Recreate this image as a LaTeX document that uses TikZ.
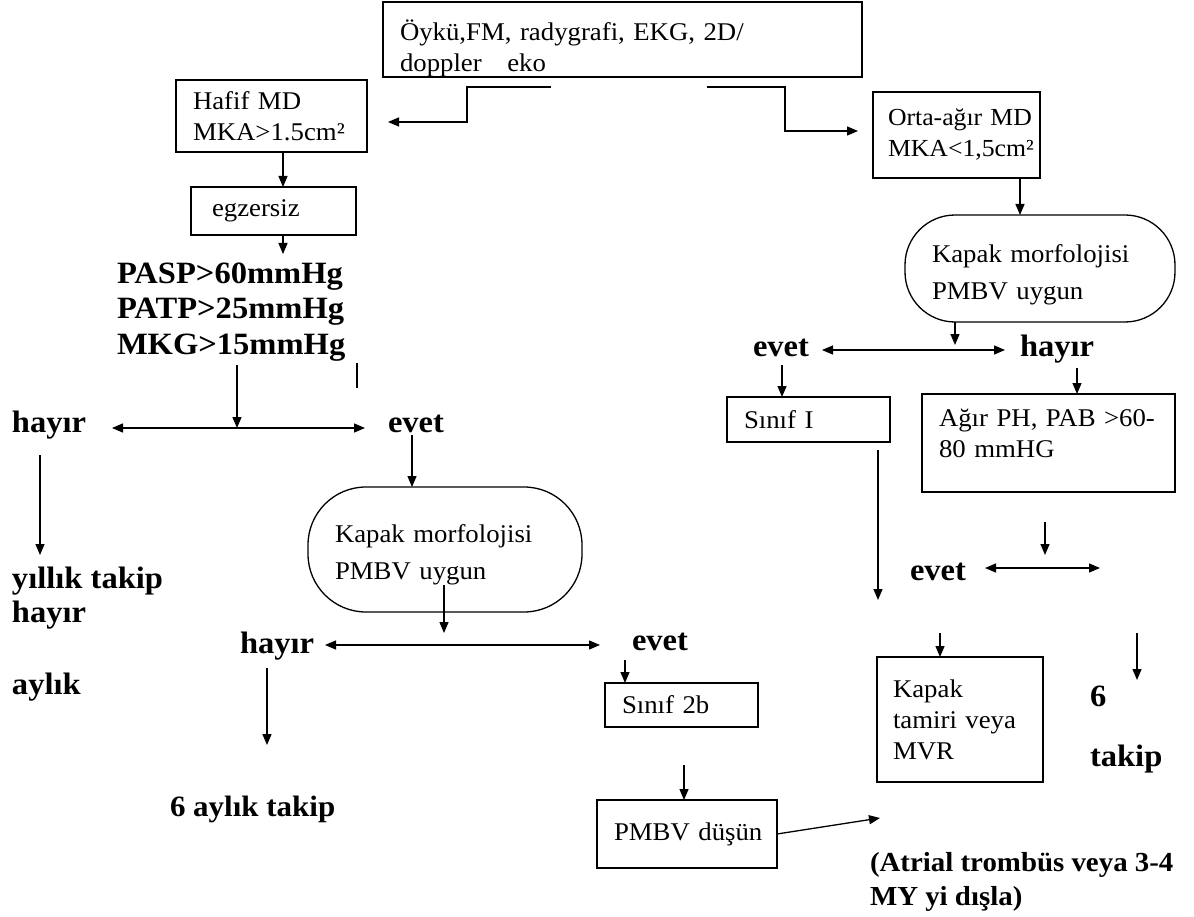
\documentclass[tikz,border=0pt]{standalone}
\usepackage{fontspec}
\setmainfont{Liberation Serif}[FakeStretch=1.05]
\usetikzlibrary{arrows.meta,calc}
\newcommand\myreg{\fontsize{25.5}{31}\selectfont}
\newcommand\myregwide{\fontsize{25.5}{37}\selectfont}
\newcommand\mybld{\fontsize{31}{35}\selectfont\bfseries}
\newcommand\mybldsm{\fontsize{27.5}{33}\selectfont\bfseries}
\begin{document}
\begin{tikzpicture}[x=1pt,y=-1pt, line width=1.3pt,
  arr/.style={-{Stealth[length=11pt,width=9pt,inset=0pt]}},
  darr/.style={{Stealth[length=11pt,width=9pt,inset=0pt]}-{Stealth[length=11pt,width=9pt,inset=0pt]}},
  box/.style={draw, line width=1.5pt, anchor=north west, inner xsep=17pt, inner ysep=0pt, outer sep=0pt, align=left, font=\myreg},
  rbox/.style={draw, line width=1.3pt, anchor=north west, inner xsep=27pt, inner ysep=0pt, outer sep=0pt, align=left, font=\myregwide},
  lbl/.style={anchor=base west, inner sep=0pt, outer sep=0pt, font=\mybld}]
\useasboundingbox (0,0) rectangle (1194,917);
\fill[white] (0,0) rectangle (1194,917);

% ---- boxes ----
\node[box, text width=445pt, minimum height=75pt] (top) at (383,2) {\rule{0pt}{38pt}\mbox{Öykü,FM, radygrafi, EKG, 2D/}\\\mbox{doppler~~~eko}};
\node[box, text width=157pt, minimum height=72pt] (hafif) at (176,80) {\mbox{Hafif MD}\\\mbox{MKA>1.5cm²}};
\node[box, inner xsep=21pt, text width=123pt, minimum height=48pt] (egz) at (191,187) {egzersiz};
\node[box, inner xsep=15pt, text width=137pt, minimum height=86pt, font=\fontsize{24.5}{31}\selectfont] (orta) at (873,92) {\mbox{Orta-ağır MD}\\\mbox{MKA<1,5cm²}};
\node[box, text width=129pt, minimum height=45pt] (s1) at (727,397) {\mbox{Sınıf I}};
\node[box, text width=219pt, minimum height=98pt] (agir) at (922,394) {\mbox{Ağır PH, PAB >60-}\\\mbox{80 mmHG}\rule[-19pt]{0pt}{0pt}};
\node[box, inner xsep=16pt, text width=134pt, minimum height=125pt] (kt) at (877,657) {\mbox{Kapak}\\\mbox{tamiri veya}\\\mbox{MVR}};
\node[box, text width=119pt, minimum height=44pt] (s2b) at (605,683) {\mbox{Sınıf 2b}};
\node[box, text width=146pt, minimum height=68pt] (pmbv) at (597,800) {\mbox{PMBV düşün}};

% ---- rounded nodes ----
\node[rbox, rounded corners=58pt, text width=220pt, minimum height=125pt] (kapL) at (308,487) {\rule{0pt}{28pt}\mbox{Kapak morfolojisi}\\\mbox{PMBV uygun}};
\node[rbox, rounded corners=50pt, text width=216pt, minimum height=107pt] (kapR) at (905,215) {\rule{0pt}{30pt}\mbox{Kapak morfolojisi}\\\mbox{PMBV uygun}};

% ---- bold labels ----
\node[lbl] (pasp) at (117,284) {PASP>60mmHg};
\node[lbl] (patp) at (117,319) {PATP>25mmHg};
\node[lbl] (mkg)  at (117,354) {MKG>15mmHg};
\node[lbl] (hay1) at (12,432) {hayır};
\node[lbl] (evet1) at (388,432) {evet};
\node[lbl] (yil) at (12,588) {yıllık takip};
\node[lbl] (hay1b) at (12,622) {hayır};
\node[lbl] (ayl) at (12,694) {aylık};
\node[lbl] (hay2) at (240,653) {hayır};
\node[lbl] (evet2) at (632,650) {evet};
\node[lbl, font=\fontsize{29.5}{35}\selectfont\bfseries] (alt6) at (170,816) {6 aylık takip};
\node[lbl] (evet3) at (753,356) {evet};
\node[lbl] (hay3) at (1020,356) {hayır};
\node[lbl] (evet4) at (910,580) {evet};
\node[lbl] (six) at (1090,706) {6};
\node[lbl] (tak) at (1090,766) {takip};
\node[lbl, font=\mybldsm] (atr1) at (870,871) {(Atrial trombüs veya 3-4};
\node[lbl, font=\mybldsm] (atr2) at (870,905) {MY yi dışla)};

% ---- coordinates ----
\coordinate (t1) at (551,87);
\coordinate (t2) at (467,87);
\coordinate (t3) at (388,122);
\coordinate (u1) at (707,87);
\coordinate (u2) at (785,87);
\coordinate (u3) at (858,131);
\coordinate (xa) at (283,0);
\coordinate (e1) at (283,254);
\coordinate (m1) at (237,365);
\coordinate (m2) at (237,428);
\coordinate (k1) at (357,363);
\coordinate (k2) at (357,388);
\coordinate (d1) at (112,428);
\coordinate (d2) at (365,428);
\coordinate (y1) at (40,455);
\coordinate (y2) at (40,555);
\coordinate (xb) at (412,435);
\coordinate (p1) at (444,585);
\coordinate (p2) at (444,633);
\coordinate (d3) at (325,645);
\coordinate (d4) at (600,645);
\coordinate (h1) at (267,668);
\coordinate (h2) at (267,745);
\coordinate (xc) at (625,660);
\coordinate (xd) at (684,765);
\coordinate (q1) at (880,818);
\coordinate (xe) at (1020,0);
\coordinate (xf) at (955,345);
\coordinate (d5) at (822,350);
\coordinate (d6) at (1005,350);
\coordinate (xg) at (782,365);
\coordinate (xh) at (1077,368);
\coordinate (r1) at (878,450);
\coordinate (r2) at (878,600);
\coordinate (r3) at (1045,522);
\coordinate (r4) at (1045,555);
\coordinate (d7) at (985,568);
\coordinate (d8) at (1100,568);
\coordinate (xi) at (940,633);
\coordinate (s1a) at (1137,633);
\coordinate (s1b) at (1137,680);

% ---- connectors ----
\draw[arr] (t1) -- (t2) |- (t3);
\draw[arr] (u1) -- (u2) |- (u3);
\draw[arr] (hafif.south -| xa) -- (egz.north -| xa);
\draw[arr] (egz.south -| xa) -- (e1);
\draw[arr] (m1) -- (m2);
\draw (k1) -- (k2);
\draw[darr] (d1) -- (d2);
\draw[arr] (y1) -- (y2);
\draw[arr] (xb) -- (kapL.north -| xb);
\draw[arr] (p1) -- (p2);
\draw[darr] (d3) -- (d4);
\draw[arr] (h1) -- (h2);
\draw[arr] (xc) -- (s2b.north -| xc);
\draw[arr] (xd) -- (pmbv.north -| xd);
\draw[arr] (pmbv.east) -- (q1);
\draw[arr] (orta.south -| xe) -- (kapR.north -| xe);
\draw[arr] (kapR.south -| xf) -- (xf);
\draw[darr] (d5) -- (d6);
\draw[arr] (xg) -- (s1.north -| xg);
\draw[arr] (xh) -- (agir.north -| xh);
\draw[arr] (r1) -- (r2);
\draw[arr] (r3) -- (r4);
\draw[darr] (d7) -- (d8);
\draw[arr] (xi) -- (kt.north -| xi);
\draw[arr] (s1a) -- (s1b);
\end{tikzpicture}
\end{document}
